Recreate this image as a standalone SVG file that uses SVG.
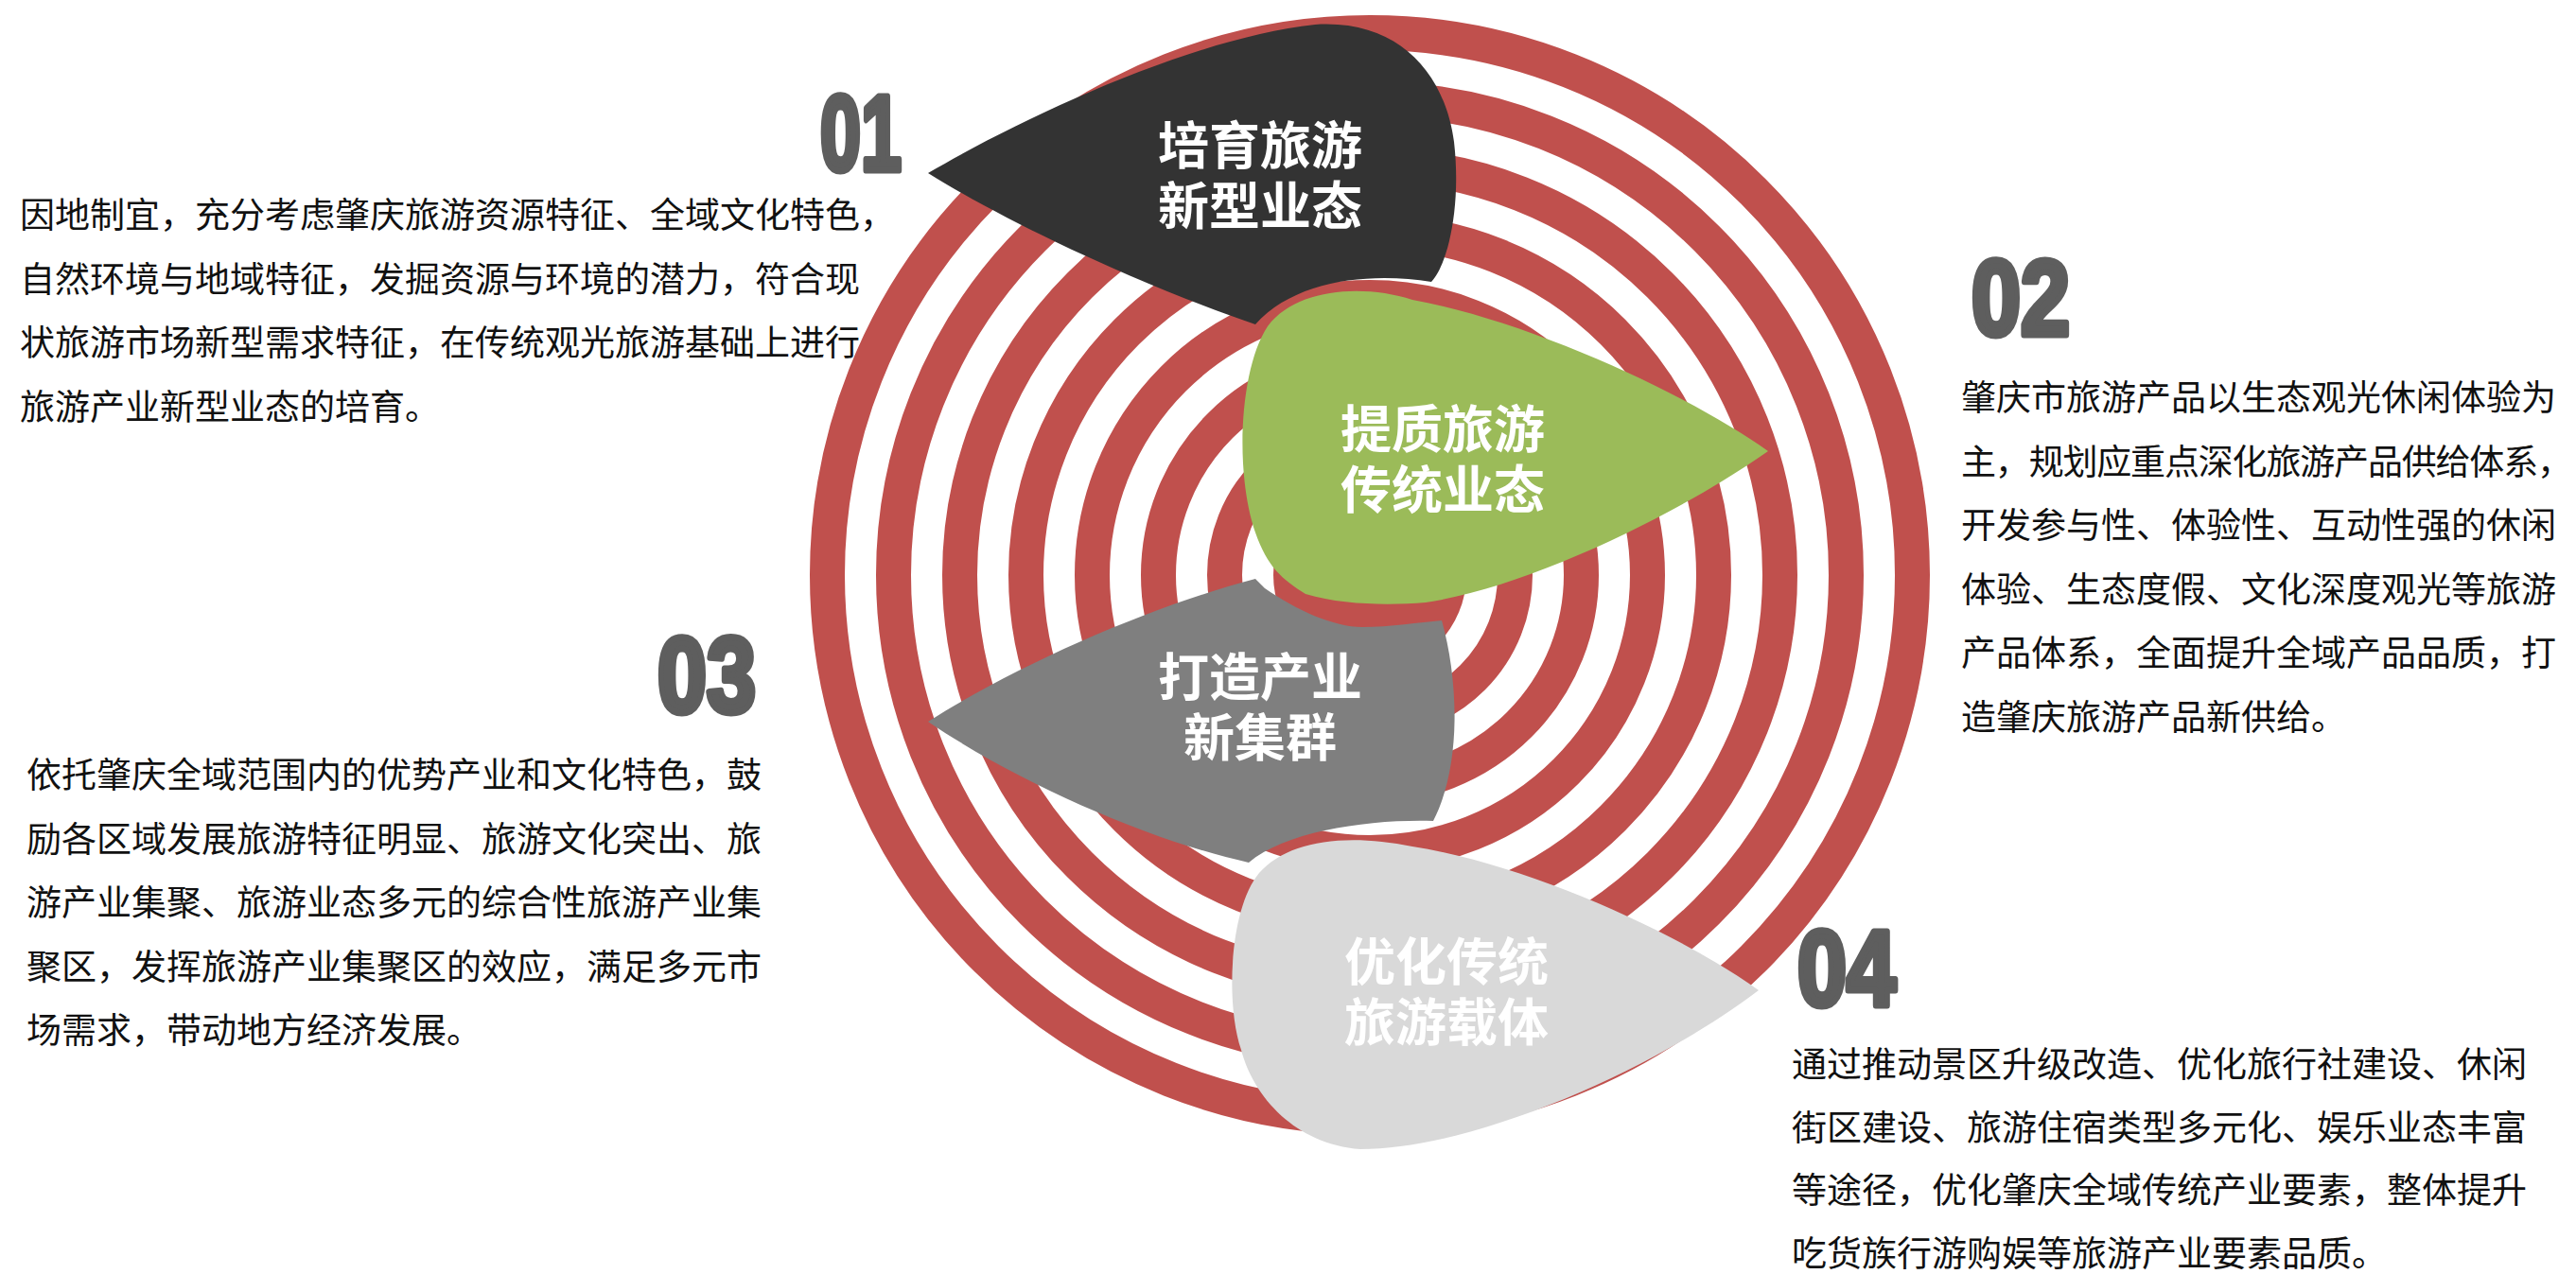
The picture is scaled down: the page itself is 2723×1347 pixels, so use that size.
<svg xmlns="http://www.w3.org/2000/svg" width="2723" height="1347" viewBox="0 0 2723 1347">
<style>
.ring{fill:none;stroke:#C0504D;stroke-width:37}
.lbl{font-family:"Noto Sans CJK SC","Noto Sans",sans-serif;font-weight:700;font-size:54px;fill:#ffffff;text-anchor:middle}
.para{font-family:"Noto Sans CJK SC","Noto Sans",sans-serif;font-size:37px;fill:#111111}
.num{font-family:"Liberation Sans",Arial,sans-serif;font-weight:700;font-size:114px;fill:#5e5e5e;stroke:#5e5e5e;stroke-width:7;stroke-linejoin:round}
</style>
<rect width="2723" height="1347" fill="#ffffff"/>
<g id="target">
<circle cx="1448" cy="608" r="102" fill="#C0504D"/>
<circle class="ring" cx="1448" cy="608" r="153.5"/>
<circle class="ring" cx="1448" cy="608" r="223.5"/>
<circle class="ring" cx="1448" cy="608" r="293.5"/>
<circle class="ring" cx="1448" cy="608" r="363.5"/>
<circle class="ring" cx="1448" cy="608" r="433.5"/>
<circle class="ring" cx="1448" cy="608" r="503.5"/>
<circle class="ring" cx="1448" cy="608" r="573.5"/>
</g>
<g id="connectors"/>
<g id="node-01">
<path fill="#333333" d="M981,183 C1080,125 1260,40 1390,26 C1480,20 1528,80 1537,150 C1545,220 1530,280 1513,298 C1450,288 1370,295 1327,343 C1230,310 1080,245 981,183 Z"/>
<text class="lbl" x="1332" y="174">培育旅游</text>
<text class="lbl" x="1332" y="238">新型业态</text>
</g>
<g id="node-02">
<path fill="#9BBB59" d="M1869,477 C1790,420 1620,340 1493,317 C1440,300 1370,305 1340,345 C1310,390 1305,500 1327,563 C1340,600 1355,612 1380,628 C1420,640 1470,640 1507,637 C1620,620 1780,540 1869,477 Z"/>
<text class="lbl" x="1525" y="474">提质旅游</text>
<text class="lbl" x="1525" y="538">传统业态</text>
</g>
<g id="node-03">
<path fill="#7F7F7F" d="M981,763 C1080,700 1220,640 1327,612 L1337,622 C1370,645 1410,663 1440,663 C1470,663 1500,658 1524,656 C1542,720 1545,810 1515,868 C1450,866 1360,878 1320,912 C1220,890 1080,830 981,763 Z"/>
<text class="lbl" x="1332" y="736">打造产业</text>
<text class="lbl" x="1332" y="800">新集群</text>
</g>
<g id="node-04">
<path fill="#D9D9D9" d="M1859,1047 C1780,990 1620,915 1493,895 C1420,880 1360,890 1331,923 C1300,960 1295,1060 1312,1110 C1325,1160 1370,1210 1438,1215 C1560,1215 1750,1130 1859,1047 Z"/>
<text class="lbl" x="1529" y="1037">优化传统</text>
<text class="lbl" x="1529" y="1101">旅游载体</text>
</g>
<g id="desc-01">
<text class="num" x="867" y="180" textLength="86" lengthAdjust="spacingAndGlyphs">01</text>
<text class="para" x="21" y="241">因地制宜，充分考虑肇庆旅游资源特征、全域文化特色，</text>
<text class="para" x="21" y="309">自然环境与地域特征，发掘资源与环境的潜力，符合现</text>
<text class="para" x="21" y="376">状旅游市场新型需求特征，在传统观光旅游基础上进行</text>
<text class="para" x="21" y="444">旅游产业新型业态的培育。</text>
</g>
<g id="desc-02">
<text class="num" x="2084" y="354" textLength="104" lengthAdjust="spacingAndGlyphs">02</text>
<text class="para" x="2073" y="434">肇庆市旅游产品以生态观光休闲体验为</text>
<text class="para" x="2073" y="502" textLength="646">主，规划应重点深化旅游产品供给体系，</text>
<text class="para" x="2073" y="569">开发参与性、体验性、互动性强的休闲</text>
<text class="para" x="2073" y="637">体验、生态度假、文化深度观光等旅游</text>
<text class="para" x="2073" y="704">产品体系，全面提升全域产品品质，打</text>
<text class="para" x="2073" y="772">造肇庆旅游产品新供给。</text>
</g>
<g id="desc-03">
<text class="num" x="695" y="753" textLength="104" lengthAdjust="spacingAndGlyphs">03</text>
<text class="para" x="28" y="833">依托肇庆全域范围内的优势产业和文化特色，鼓</text>
<text class="para" x="28" y="901">励各区域发展旅游特征明显、旅游文化突出、旅</text>
<text class="para" x="28" y="968">游产业集聚、旅游业态多元的综合性旅游产业集</text>
<text class="para" x="28" y="1036">聚区，发挥旅游产业集聚区的效应，满足多元市</text>
<text class="para" x="28" y="1103">场需求，带动地方经济发展。</text>
</g>
<g id="desc-04">
<text class="num" x="1900" y="1063" textLength="104" lengthAdjust="spacingAndGlyphs">04</text>
<text class="para" x="1894" y="1139">通过推动景区升级改造、优化旅行社建设、休闲</text>
<text class="para" x="1894" y="1206">街区建设、旅游住宿类型多元化、娱乐业态丰富</text>
<text class="para" x="1894" y="1272">等途径，优化肇庆全域传统产业要素，整体提升</text>
<text class="para" x="1894" y="1339">吃货族行游购娱等旅游产业要素品质。</text>
</g>
</svg>
